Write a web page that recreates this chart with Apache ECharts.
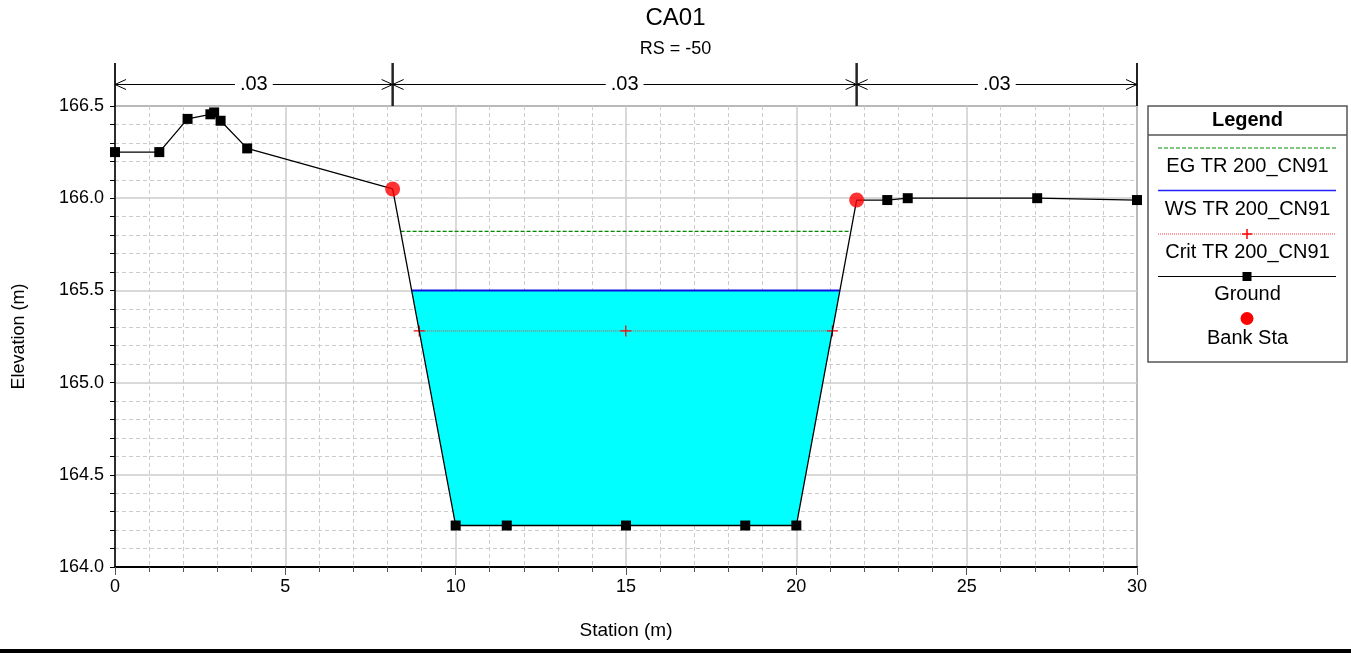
<!DOCTYPE html>
<html>
<head>
<meta charset="utf-8">
<script src="https://cdn.jsdelivr.net/npm/echarts@6/dist/echarts.min.js"></script>
<style>
html,body{margin:0;padding:0;background:#fff;}
#chart{width:1351px;height:653px;}
</style>
</head>
<body>
<div id="chart"></div>
<script>
// ---- data ----
const groundX = [0, 1.3, 2.13, 2.8, 2.91, 3.1, 3.88, 8.15, 10, 11.5, 15, 18.5, 20, 21.77, 22.67, 23.27, 27.07, 30];
const groundY = [166.25, 166.25, 166.43, 166.455, 166.465, 166.42, 166.27, 166.05, 164.225, 164.225, 164.225, 164.225, 164.225, 165.99, 165.99, 166.0, 166.0, 165.99];
const bankX = [8.15, 21.77];
const bankY = [166.05, 165.99];
const egElev = 165.82;
const wsElev = 165.50;
const critElev = 165.28;
const nBreaks = [0, 8.15, 21.77, 30];
const nValues = ['.03', '.03', '.03'];
const xTicks = [0, 5, 10, 15, 20, 25, 30];
const yTicks = [164.0, 164.5, 165.0, 165.5, 166.0, 166.5];
const legendNames = ['EG TR 200_CN91', 'WS TR 200_CN91', 'Crit TR 200_CN91', 'Ground', 'Bank Sta'];

// ---- helpers ----
function crossings(level) {
  const iL = groundX.indexOf(bankX[0]), iR = groundX.indexOf(bankX[1]);
  let left = null, right = null;
  for (let i = iL; i < iR; i++) {
    const x0 = groundX[i], x1 = groundX[i + 1], y0 = groundY[i], y1 = groundY[i + 1];
    if (left === null && y0 >= level && y1 < level) left = x0 + (y0 - level) / (y0 - y1) * (x1 - x0);
    if (y0 < level && y1 >= level) right = x0 + (level - y0) / (y1 - y0) * (x1 - x0);
  }
  return [left, right];
}
const groundData = groundX.map((x, i) => bankX.indexOf(x) >= 0
  ? {value: [x, groundY[i]], symbol: 'none'}
  : [x, groundY[i]]);
const bankData = bankX.map((x, i) => [x, bankY[i]]);
const egC = crossings(egElev), wsC = crossings(wsElev), crC = crossings(critElev);
const waterPoly = [[wsC[0], wsElev]];
groundX.forEach((x, i) => { if (x > wsC[0] && x < wsC[1] && groundY[i] < wsElev) waterPoly.push([x, groundY[i]]); });
waterPoly.push([wsC[1], wsElev]);
const nSegs = nValues.map((v, i) => [nBreaks[i], nBreaks[i + 1], v]);

const FONT = '"Liberation Sans", Arial, sans-serif';
const plusPath = 'path://M4,0h1v4h4v1h-4v4h-1v-4h-4v-1h4z';

const chart = echarts.init(document.getElementById('chart'), null, {renderer: 'canvas'});

// legend drawing (decoration)
const LX = 1148, LW = 199, LC = LX + LW / 2;
const LF = '20px ' + FONT;
const legendGraphic = [
  {type: 'rect', shape: {x: LX, y: 106, width: LW, height: 256}, style: {fill: '#fff', stroke: '#555', lineWidth: 1.5}},
  {type: 'line', shape: {x1: LX, y1: 135, x2: LX + LW, y2: 135}, style: {stroke: '#555', lineWidth: 1.5}},
  {type: 'text', x: LC, y: 120, style: {text: 'Legend', font: 'bold 20px ' + FONT, fill: '#000', align: 'center', verticalAlign: 'middle'}},
  {type: 'line', shape: {x1: 1158, y1: 148, x2: 1336, y2: 148}, style: {stroke: '#009000', lineWidth: 1, lineDash: [4, 2]}},
  {type: 'text', x: LC, y: 166, style: {text: legendNames[0], font: LF, fill: '#000', align: 'center', verticalAlign: 'middle'}},
  {type: 'line', shape: {x1: 1158, y1: 190.5, x2: 1336, y2: 190.5}, style: {stroke: '#2020ff', lineWidth: 1.5}},
  {type: 'text', x: LC, y: 209, style: {text: legendNames[1], font: LF, fill: '#000', align: 'center', verticalAlign: 'middle'}},
  {type: 'line', shape: {x1: 1158, y1: 234, x2: 1336, y2: 234}, style: {stroke: '#ff4040', lineWidth: 1, lineDash: [1, 1]}},
  {type: 'line', shape: {x1: 1242, y1: 234, x2: 1252, y2: 234}, style: {stroke: '#ff0000', lineWidth: 1.5}},
  {type: 'line', shape: {x1: 1247, y1: 229, x2: 1247, y2: 239}, style: {stroke: '#ff0000', lineWidth: 1.5}},
  {type: 'text', x: LC, y: 252, style: {text: legendNames[2], font: LF, fill: '#000', align: 'center', verticalAlign: 'middle'}},
  {type: 'line', shape: {x1: 1158, y1: 276.5, x2: 1336, y2: 276.5}, style: {stroke: '#000', lineWidth: 1}},
  {type: 'rect', shape: {x: 1242.5, y: 272, width: 9, height: 9}, style: {fill: '#000'}},
  {type: 'text', x: LC, y: 294, style: {text: legendNames[3], font: LF, fill: '#000', align: 'center', verticalAlign: 'middle'}},
  {type: 'circle', shape: {cx: 1247, cy: 318.5, r: 6.5}, style: {fill: '#ff0000'}},
  {type: 'text', x: LC, y: 338, style: {text: legendNames[4], font: LF, fill: '#000', align: 'center', verticalAlign: 'middle'}},
  {type: 'rect', shape: {x: 0, y: 649, width: 1351, height: 4}, style: {fill: '#000'}}
];

const option = {
  animation: false,
  backgroundColor: '#fff',
  textStyle: {fontFamily: FONT},
  title: [
    {text: 'CA01', left: 'center', top: 1, textStyle: {fontFamily: FONT, fontSize: 24, fontWeight: 'normal', color: '#000'}},
    {text: 'RS = -50', left: 'center', top: 35, textStyle: {fontFamily: FONT, fontSize: 18, fontWeight: 'normal', color: '#000'}}
  ],
  grid: [
    {left: 115, top: 106, width: 1022, height: 461, show: true, borderColor: '#555', borderWidth: 1.5, backgroundColor: 'transparent'},
    {left: 115, top: 63, width: 1022, height: 43, show: false}
  ],
  xAxis: [
    {
      type: 'value', gridIndex: 0, min: xTicks[0], max: xTicks[xTicks.length - 1], interval: 5,
      name: 'Station (m)', nameLocation: 'middle', nameGap: 54,
      nameTextStyle: {fontFamily: FONT, fontSize: 19, color: '#000'},
      axisLine: {show: true, onZero: false, lineStyle: {color: '#000', width: 2}},
      axisTick: {show: true, inside: false, length: 8, lineStyle: {color: '#555'}},
      minorTick: {show: true, splitNumber: 5, length: 5, lineStyle: {color: '#555'}},
      axisLabel: {fontFamily: FONT, fontSize: 18, color: '#000', margin: 11},
      splitLine: {show: true, lineStyle: {color: '#cccccc', width: 1.5}},
      minorSplitLine: {show: true, lineStyle: {color: '#cccccc', type: [4, 3], width: 1}}
    },
    {type: 'value', gridIndex: 1, min: 0, max: 30, show: false}
  ],
  yAxis: [
    {
      type: 'value', gridIndex: 0, min: yTicks[0], max: yTicks[yTicks.length - 1], interval: 0.5,
      name: 'Elevation (m)', nameLocation: 'middle', nameGap: 87, nameRotate: 90,
      nameTextStyle: {fontFamily: FONT, fontSize: 18, color: '#000'},
      axisLine: {show: true, onZero: false, lineStyle: {color: '#000', width: 1.5}},
      axisTick: {show: true, inside: false, length: 5, lineStyle: {color: '#000'}},
      minorTick: {show: true, splitNumber: 5, length: 5, lineStyle: {color: '#000'}},
      axisLabel: {fontFamily: FONT, fontSize: 18, color: '#000', margin: 11, formatter: v => v.toFixed(1)},
      splitLine: {show: true, lineStyle: {color: '#cccccc', width: 1.5}},
      minorSplitLine: {show: true, lineStyle: {color: '#cccccc', type: [4, 3], width: 1}}
    },
    {type: 'value', gridIndex: 1, min: 0, max: 1, show: false}
  ],
  graphic: legendGraphic,
  series: [
    {
      type: 'custom', name: 'water', xAxisIndex: 0, yAxisIndex: 0, z: 1,
      data: [[0]],
      renderItem: (params, api) => ({
        type: 'polygon',
        shape: {points: waterPoly.map(p => api.coord(p))},
        style: {fill: '#00ffff'}
      }),
      silent: true
    },
    {
      type: 'line', name: legendNames[0], xAxisIndex: 0, yAxisIndex: 0, z: 3,
      data: [[egC[0], egElev], [egC[1], egElev]], symbol: 'none',
      lineStyle: {color: '#008800', width: 1.2, type: [4, 2]}
    },
    {
      type: 'line', name: legendNames[1], xAxisIndex: 0, yAxisIndex: 0, z: 3,
      data: [[wsC[0], wsElev], [wsC[1], wsElev]], symbol: 'none',
      lineStyle: {color: '#1010e0', width: 2}
    },
    {
      type: 'line', name: legendNames[2], xAxisIndex: 0, yAxisIndex: 0, z: 3,
      data: [[crC[0], critElev], [(crC[0] + crC[1]) / 2, critElev], [crC[1], critElev]],
      symbol: plusPath, symbolSize: 11, itemStyle: {color: '#ff0000'},
      lineStyle: {color: '#d04848', width: 1, type: [1, 1]}
    },
    {
      type: 'line', name: legendNames[3], xAxisIndex: 0, yAxisIndex: 0, z: 4,
      data: groundData, symbol: 'rect', symbolSize: 10, showAllSymbol: true,
      itemStyle: {color: '#000'}, lineStyle: {color: '#000', width: 1.3}
    },
    {
      type: 'scatter', name: legendNames[4], xAxisIndex: 0, yAxisIndex: 0, z: 5,
      data: bankData, symbol: 'circle', symbolSize: 15, itemStyle: {color: '#ff0000'}
    },
    {
      type: 'custom', name: 'n-values', xAxisIndex: 1, yAxisIndex: 1, z: 5,
      data: nSegs, clip: false, silent: true,
      renderItem: (params, api) => {
        const x0 = api.value(0), x1 = api.value(1), label = nValues[params.dataIndex];
        const p0 = api.coord([x0, 0.5]), p1 = api.coord([x1, 0.5]);
        const t0 = api.coord([x0, 1]), b0 = api.coord([x0, 0]);
        const t1 = api.coord([x1, 1]), b1 = api.coord([x1, 0]);
        const st = {stroke: '#000', lineWidth: 1};
        const vs = {stroke: '#222', lineWidth: 2};
        const mid = (p0[0] + p1[0]) / 2;
        return {
          type: 'group',
          children: [
            {type: 'line', shape: {x1: t0[0], y1: t0[1], x2: b0[0], y2: b0[1]}, style: vs},
            {type: 'line', shape: {x1: t1[0], y1: t1[1], x2: b1[0], y2: b1[1]}, style: vs},
            {type: 'line', shape: {x1: p0[0], y1: p0[1], x2: p1[0], y2: p1[1]}, style: st},
            {type: 'polyline', shape: {points: [[p0[0] + 11, p0[1] - 5], [p0[0], p0[1]], [p0[0] + 11, p0[1] + 5]]}, style: Object.assign({fill: null}, st)},
            {type: 'polyline', shape: {points: [[p1[0] - 11, p1[1] - 5], [p1[0], p1[1]], [p1[0] - 11, p1[1] + 5]]}, style: Object.assign({fill: null}, st)},
            {type: 'text', x: mid, y: p0[1], style: {text: label, font: '20px ' + FONT, fill: '#000', align: 'center', verticalAlign: 'middle', backgroundColor: '#fff', padding: [0, 5]}}
          ]
        };
      }
    }
  ]
};
chart.setOption(option);
</script>
</body>
</html>
